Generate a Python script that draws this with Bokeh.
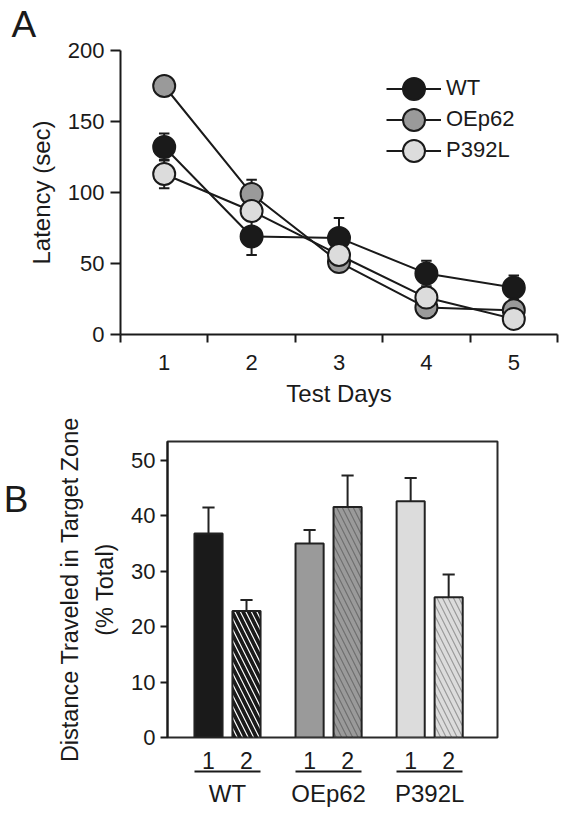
import numpy as np
from bokeh.plotting import figure
from bokeh.models import (Range1d, FixedTicker, Legend, LegendItem, Title,
                          LinearAxis, ColumnDataSource)
from bokeh.layouts import column
from bokeh.embed import file_html
from bokeh.resources import INLINE

FONT = "Liberation Sans"
INK = "#1a1a1a"

# ---------------- Panel A data ----------------
days = [1, 2, 3, 4, 5]
day_labels = ["1", "2", "3", "4", "5"]
wt_latency = [132, 69, 68, 43, 33]
wt_err = [9.5, 13, 14, 9, 8.5]
oe_latency = [175, 99, 51, 19, 17]
oe_err = [5, 10, 6, 4, 3]
p392_latency = [113, 87, 56, 26, 11]
p392_err = [10, 6, 5, 4, 3]
series_names = ["WT", "OEp62", "P392L"]
series_colors = ["#1a1a1a", "#9a9a9a", "#dcdcdc"]
latency_ticks = [0, 50, 100, 150, 200]

# ---------------- Panel B data ----------------
groups = ["WT", "OEp62", "P392L"]
trial_labels = ["1", "2"]
dist_trial1 = [36.8, 35.0, 42.6]
dist_trial1_err = [4.7, 2.45, 4.2]
dist_trial2 = [22.8, 41.6, 25.3]
dist_trial2_err = [2.0, 5.65, 4.1]
group_colors = ["#1a1a1a", "#9a9a9a", "#dcdcdc"]
hatch_colors = ["#ffffff", "#6e6e6e", "#9a9a9a"]
dist_ticks = [0, 10, 20, 30, 40, 50]


def no_align(p):
    try:
        p.frame_align = False
    except Exception:
        pass


def style_axis(ax, tick_size="22px"):
    ax.axis_line_color = INK
    ax.axis_line_width = 2
    ax.major_tick_line_color = INK
    ax.major_tick_line_width = 2
    ax.major_tick_in = 0
    ax.minor_tick_line_color = None
    ax.major_label_text_font = FONT
    ax.major_label_text_font_size = tick_size
    ax.major_label_text_color = INK
    ax.axis_label_text_font = FONT
    ax.axis_label_text_font_size = "24px"
    ax.axis_label_text_font_style = "normal"
    ax.axis_label_text_color = INK


# ================= Panel A =================
W = 568
A_H = 413
A_LEFT, A_RIGHT, A_TOP, A_BOTTOM = 120, 11, 50, 79
xa = Range1d(0.5, 5.5)
ya = Range1d(0, 200)
pa = figure(width=W, height=A_H, x_range=xa, y_range=ya,
            output_backend="svg", toolbar_location=None,
            min_border_left=A_LEFT, min_border_right=A_RIGHT,
            min_border_top=A_TOP, min_border_bottom=A_BOTTOM)
no_align(pa)
pa.outline_line_color = None
pa.xgrid.grid_line_color = None
pa.ygrid.grid_line_color = None

style_axis(pa.xaxis[0])
style_axis(pa.yaxis[0])
pa.xaxis.ticker = FixedTicker(ticks=days,
                              minor_ticks=[d - 0.5 for d in days] + [days[-1] + 0.5])
pa.xaxis.major_label_overrides = {d: l for d, l in zip(days, day_labels)}
pa.xaxis.major_tick_line_color = None
pa.xaxis.major_tick_out = 8
pa.xaxis.minor_tick_line_color = INK
pa.xaxis.minor_tick_line_width = 2
pa.xaxis.minor_tick_out = 8
pa.xaxis.minor_tick_in = 0
pa.xaxis.major_label_standoff = 12
pa.xaxis.axis_label = "Test Days"
pa.xaxis.axis_label_standoff = 7

pa.yaxis.ticker = FixedTicker(ticks=latency_ticks)
pa.yaxis.major_tick_out = 10
pa.yaxis.major_label_standoff = 6
pa.yaxis.axis_label = "Latency (sec)"
pa.yaxis.axis_label_standoff = 10

pa.title = Title(text="A", align="left", offset=11 - A_LEFT, standoff=7,
                 vertical_align="top", text_font=FONT, text_font_size="37px",
                 text_font_style="normal", text_color=INK)

lat_all = [wt_latency, oe_latency, p392_latency]
err_all = [wt_err, oe_err, p392_err]
cap_a = 0.06

line_rs = []
for vals in lat_all:
    line_rs.append(pa.line(days, vals, line_color=INK, line_width=2))

for vals, errs in zip(lat_all, err_all):
    v = np.array(vals, dtype=float)
    e = np.array(errs, dtype=float)
    d = np.array(days, dtype=float)
    pa.segment(x0=d, y0=v - e, x1=d, y1=v + e, line_color=INK, line_width=2)
    pa.segment(x0=d - cap_a, y0=v + e, x1=d + cap_a, y1=v + e, line_color=INK, line_width=2)
    pa.segment(x0=d - cap_a, y0=v - e, x1=d + cap_a, y1=v - e, line_color=INK, line_width=2)

mk_rs = []
for vals, col in zip(lat_all, series_colors):
    mk_rs.append(pa.scatter(days, vals, size=22, fill_color=col,
                            line_color=INK, line_width=2))

# one legend per entry, so that the rows sit close together with large markers
LEG_GLYPH = 55
leg_glyph_left = 386              # px, left edge of legend glyph area
leg_row_centers = [88, 119, 150]  # px, row centres
frame_bottom_a = A_H - A_BOTTOM
for name, lr, mr, cy in zip(series_names, line_rs, mk_rs, leg_row_centers):
    lg = Legend(items=[LegendItem(label=name, renderers=[lr, mr])],
                location=(leg_glyph_left - A_LEFT,
                          frame_bottom_a - (cy - LEG_GLYPH / 2) - LEG_GLYPH),
                margin=0, padding=0, spacing=0,
                glyph_width=LEG_GLYPH, glyph_height=LEG_GLYPH, label_standoff=5,
                label_text_font=FONT, label_text_font_size="22px",
                label_text_color=INK, background_fill_alpha=0,
                border_line_color=None)
    pa.add_layout(lg)

# ================= Panel B =================
GROUP_STEP = 2.66
BAR_W = 0.74
gx = np.round(np.arange(len(groups)) * GROUP_STEP, 3)
x1 = np.round(gx - 0.5, 3)
x2 = np.round(gx + 0.5, 3)

B_LEFT, B_RIGHT, B_TOP, B_BOTTOM = 167, 71, 28, 75
B_H = B_TOP + 296 + B_BOTTOM
xb = Range1d(-1.579, 7.105)
yb = Range1d(0, 53.4)
pb = figure(width=W, height=B_H, x_range=xb, y_range=yb,
            x_axis_location=None,
            output_backend="svg", toolbar_location=None,
            min_border_left=B_LEFT, min_border_right=B_RIGHT,
            min_border_top=B_TOP, min_border_bottom=B_BOTTOM)
no_align(pb)
pb.outline_line_color = "#2a2a2a"
pb.outline_line_width = 2
pb.xgrid.grid_line_color = None
pb.ygrid.grid_line_color = None
style_axis(pb.yaxis[0])
pb.yaxis.ticker = FixedTicker(ticks=dist_ticks)
pb.yaxis.major_tick_out = 7
pb.yaxis.major_label_standoff = 5
pb.yaxis.axis_label = "Distance Traveled in Target Zone\n(% Total)"
pb.yaxis.axis_label_text_font_size = "23.5px"
pb.yaxis.axis_label_standoff = 10
pb.yaxis.axis_label_text_line_height = 1.36

# panel letter B as the only label of an outer left axis
B_LETTER_Y = 42.96
b_axis = LinearAxis(ticker=FixedTicker(ticks=[B_LETTER_Y]),
                    major_label_overrides={B_LETTER_Y: "B"})
style_axis(b_axis, tick_size="37px")
b_axis.axis_line_color = None
b_axis.major_tick_line_color = None
b_axis.major_tick_out = 0
b_axis.major_label_standoff = 25
pb.add_layout(b_axis, "left")

cap_b = 0.16
for xs, tops, errs in [(x1, dist_trial1, dist_trial1_err), (x2, dist_trial2, dist_trial2_err)]:
    t = np.array(tops)
    e = np.array(errs)
    pb.segment(x0=xs, y0=t, x1=xs, y1=t + e, line_color="#222222", line_width=2)
    pb.segment(x0=xs - cap_b, y0=t + e, x1=xs + cap_b, y1=t + e,
               line_color="#222222", line_width=2)

src1 = ColumnDataSource(dict(x=x1, top=dist_trial1, fill=group_colors))
src2 = ColumnDataSource(dict(x=x2, top=dist_trial2, fill=group_colors, hatch=hatch_colors))
pb.vbar(x="x", top="top", width=BAR_W, source=src1, fill_color="fill",
        line_color="#222222", line_width=2)
pb.vbar(x="x", top="top", width=BAR_W, source=src2, fill_color="fill",
        line_color="#222222", line_width=2, hatch_pattern="\\",
        hatch_color="hatch", hatch_scale=11, hatch_weight=1.2)

# trial numbers under each bar
trial_pos = [float(v) for v in np.concatenate([x1, x2])]
trial_txt = [trial_labels[0]] * len(groups) + [trial_labels[1]] * len(groups)
ax_trial = LinearAxis(ticker=FixedTicker(ticks=trial_pos),
                      major_label_overrides={p: t for p, t in zip(trial_pos, trial_txt)})
style_axis(ax_trial, tick_size="23px")
ax_trial.axis_line_color = None
ax_trial.major_tick_line_color = None
ax_trial.major_tick_out = 0
ax_trial.major_label_standoff = 14
pb.add_layout(ax_trial, "below")

# underline of each group (axis rules limited to the group's span)
for a, b in zip(x1, x2):
    ul = LinearAxis(ticker=FixedTicker(ticks=[]),
                    bounds=(float(a - BAR_W / 2), float(b + BAR_W / 2)))
    style_axis(ul)
    ul.major_tick_line_color = None
    ul.major_tick_out = 0
    ul.major_label_standoff = 0
    pb.add_layout(ul, "below")

# group names
ax_group = LinearAxis(ticker=FixedTicker(ticks=[float(g) for g in gx]),
                      major_label_overrides={float(g): n for g, n in zip(gx, groups)})
style_axis(ax_group, tick_size="24px")
ax_group.axis_line_color = None
ax_group.major_tick_line_color = None
ax_group.major_tick_out = 0
ax_group.major_label_standoff = 8
pb.add_layout(ax_group, "below")

layout = column(pa, pb, spacing=0)
open("out.html", "w").write(file_html(layout, INLINE))
